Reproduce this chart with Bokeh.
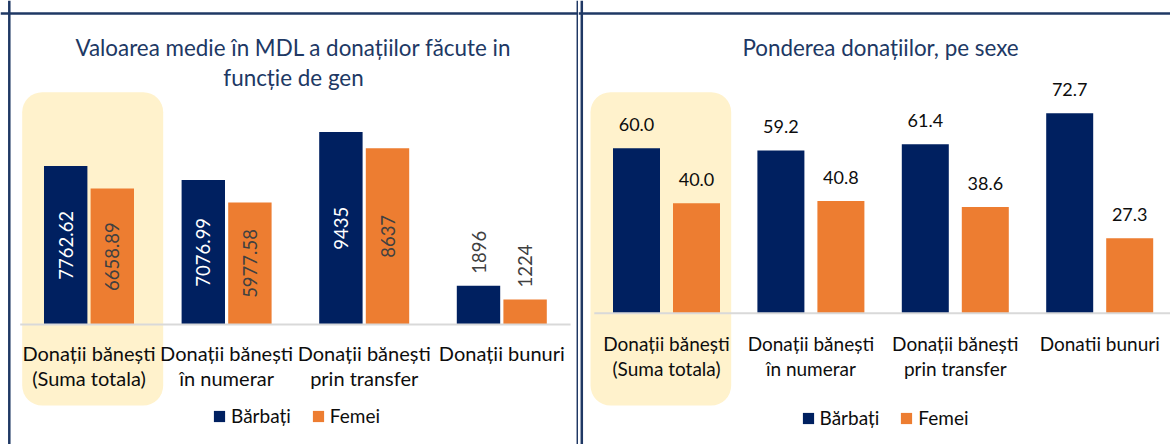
import numpy as np
from bokeh.plotting import figure
from bokeh.models import Range1d, Span, Legend, LegendItem, ColumnDataSource
from bokeh.layouts import row
from bokeh.core.properties import value
from bokeh.embed import file_html
from bokeh.resources import INLINE

# ---------------- data ----------------
categories_left = ["Donații bănești\n(Suma totala)", "Donații bănești\nîn numerar",
                   "Donații bănești\nprin transfer", "Donații bunuri"]
categories_right = ["Donații bănești\n(Suma totala)", "Donații bănești\nîn numerar",
                    "Donații bănești\nprin transfer", "Donatii bunuri"]
series_names = ["Bărbați", "Femei"]

mdl_barbati = [7762.62, 7076.99, 9435, 1896]
mdl_femei = [6658.89, 5977.58, 8637, 1224]
mdl_labels_barbati = ["7762.62", "7076.99", "9435", "1896"]
mdl_labels_femei = ["6658.89", "5977.58", "8637", "1224"]

pct_barbati = [60.0, 59.2, 61.4, 72.7]
pct_femei = [40.0, 40.8, 38.6, 27.3]

title_left = ["Valoarea medie în MDL a donațiilor făcute in", "funcție de gen"]
title_right = ["Ponderea donațiilor, pe sexe"]

# ---------------- style ----------------
NAVY = "#002060"
ORANGE = "#ED7D31"
TITLE_C = "#203864"
BORDER_C = "#1F3864"
HILITE = "#FFF2CC"
BASE_C = "#D9D9D9"
TXT = "#0d0d0d"
GRAY_T = "#404040"
FONT_NAME = "Lato"
FONT = value(FONT_NAME)
H = 444


def make_panel(W, x0, ppu_x, base, ppu_y, bar_w, bar_off, hl, title_lines, title_ys,
               title_cx, cats, vb, vf, cat_offs, cat_fs, val_fs, legend_loc, borders,
               value_mode, lb=None, lf=None):
    n = len(cats)
    xi = np.arange(n, dtype=float)
    y_top = base / ppu_y
    y_bot = -(H - base) / ppu_y
    p = figure(width=W, height=H, x_range=Range1d(x0, x0 + W / ppu_x),
               y_range=Range1d(y_bot, y_top), x_axis_type=None, y_axis_type=None,
               output_backend="svg", toolbar_location=None, min_border=0,
               outline_line_color=None, background_fill_color="white",
               border_fill_color="white")

    def xd(px):
        return x0 + px / ppu_x

    def yd(px):
        return y_top - px / ppu_y

    # highlight box
    p.quad(left=[xd(hl[0])], right=[xd(hl[1])], top=[yd(hl[2])], bottom=[yd(hl[3])],
           fill_color=HILITE, line_color=None, border_radius=20)

    bw = bar_w / ppu_x
    off = bar_off / ppu_x
    src = ColumnDataSource(dict(xb=xi - off, xf=xi + off, b=vb, f=vf))
    rb = p.vbar(x="xb", top="b", width=bw, source=src, fill_color=NAVY, line_color=None)
    rf = p.vbar(x="xf", top="f", width=bw, source=src, fill_color=ORANGE, line_color=None)

    # baseline
    p.segment(x0=[-0.5], x1=[n - 0.5], y0=[0], y1=[0], line_color=BASE_C, line_width=2)

    # value labels
    if value_mode == "rotated":
        vmax = max(max(vb), max(vf))
        for xs, vals, labs, incol in ((xi - off, vb, lb, "white"), (xi + off, vf, lf, GRAY_T)):
            inside = [v > 0.3 * vmax for v in vals]
            xin = [x for x, k in zip(xs, inside) if k]
            yin = [v / 2 for v, k in zip(vals, inside) if k]
            tin = [t for t, k in zip(labs, inside) if k]
            xo = [x for x, k in zip(xs, inside) if not k]
            yo = [v for v, k in zip(vals, inside) if not k]
            to = [t for t, k in zip(labs, inside) if not k]
            p.text(x=xin, y=yin, text=tin, angle=np.pi / 2, text_align="center",
                   text_baseline="middle", text_color=incol, text_font=FONT,
                   text_font_size=val_fs)
            p.text(x=xo, y=yo, text=to, angle=np.pi / 2, text_align="left",
                   text_baseline="middle", y_offset=-12, text_color=GRAY_T,
                   text_font=FONT, text_font_size=val_fs)
    else:
        for xs, vals in ((xi - off, vb), (xi + off, vf)):
            p.text(x=xs, y=vals, text=[f"{v:.1f}" for v in vals], text_align="center",
                   text_baseline="middle", y_offset=-24, text_color=TXT, text_font=FONT,
                   text_font_size=val_fs)

    # category labels
    l1 = [c.split("\n")[0] for c in cats]
    l2 = [c.split("\n")[1] if "\n" in c else "" for c in cats]
    for lines, yo in ((l1, cat_offs[0]), (l2, cat_offs[1])):
        p.text(x=xi, y=[0] * n, text=lines, y_offset=yo, text_align="center",
               text_baseline="middle", text_color=TXT, text_font=FONT,
               text_font_size=cat_fs)

    # title
    for t, ty in zip(title_lines, title_ys):
        p.text(x=[xd(title_cx)], y=[yd(ty)], text=[t], text_align="center",
               text_baseline="middle", text_color=TITLE_C, text_font=FONT,
               text_font_size="22.4px")

    # legend
    legend = Legend(items=[LegendItem(label=series_names[0], renderers=[rb]),
                           LegendItem(label=series_names[1], renderers=[rf])],
                    location=legend_loc, orientation="horizontal", padding=0, margin=0,
                    spacing=20, label_standoff=5, glyph_width=14, glyph_height=14,
                    label_text_font=FONT_NAME, label_text_font_size="19px",
                    label_text_color=TXT, border_line_color=None,
                    background_fill_alpha=0)
    p.add_layout(legend)

    # panel borders
    for kind, pos in borders:
        if kind == "v":
            p.add_layout(Span(location=xd(pos), dimension="height", line_color=BORDER_C,
                              line_width=2.5))
        else:
            p.add_layout(Span(location=yd(pos), dimension="width", line_color=BORDER_C,
                              line_width=2.5))
    return p


left = make_panel(W=578, x0=-88.5 / 137.6, ppu_x=137.6, base=324, ppu_y=0.02041,
                  bar_w=43.4, bar_off=23.3, hl=(21.7, 162.7, 91.7, 405),
                  title_lines=title_left, title_ys=(47, 77), title_cx=293,
                  cats=categories_left, vb=mdl_barbati, vf=mdl_femei,
                  cat_offs=(28, 53.5), cat_fs="20px", val_fs="18.5px",
                  legend_loc=(212, 17),
                  borders=[("v", 8.8), ("v", 577.3), ("h", 13)], value_mode="rotated",
                  lb=mdl_labels_barbati, lf=mdl_labels_femei)

right = make_panel(W=592, x0=-88 / 144.4, ppu_x=144.4, base=312.7, ppu_y=2.75,
                   bar_w=47, bar_off=30, hl=(12, 152.7, 91.7, 405),
                   title_lines=title_right, title_ys=(47,), title_cx=302,
                   cats=categories_right, vb=pct_barbati, vf=pct_femei,
                   cat_offs=(30, 55.6), cat_fs="19px", val_fs="18px",
                   legend_loc=(222.5, 15),
                   borders=[("v", 3.3), ("h", 13)], value_mode="pct")

layout = row(left, right, spacing=0)
open("out.html", "w").write(file_html(layout, INLINE))
